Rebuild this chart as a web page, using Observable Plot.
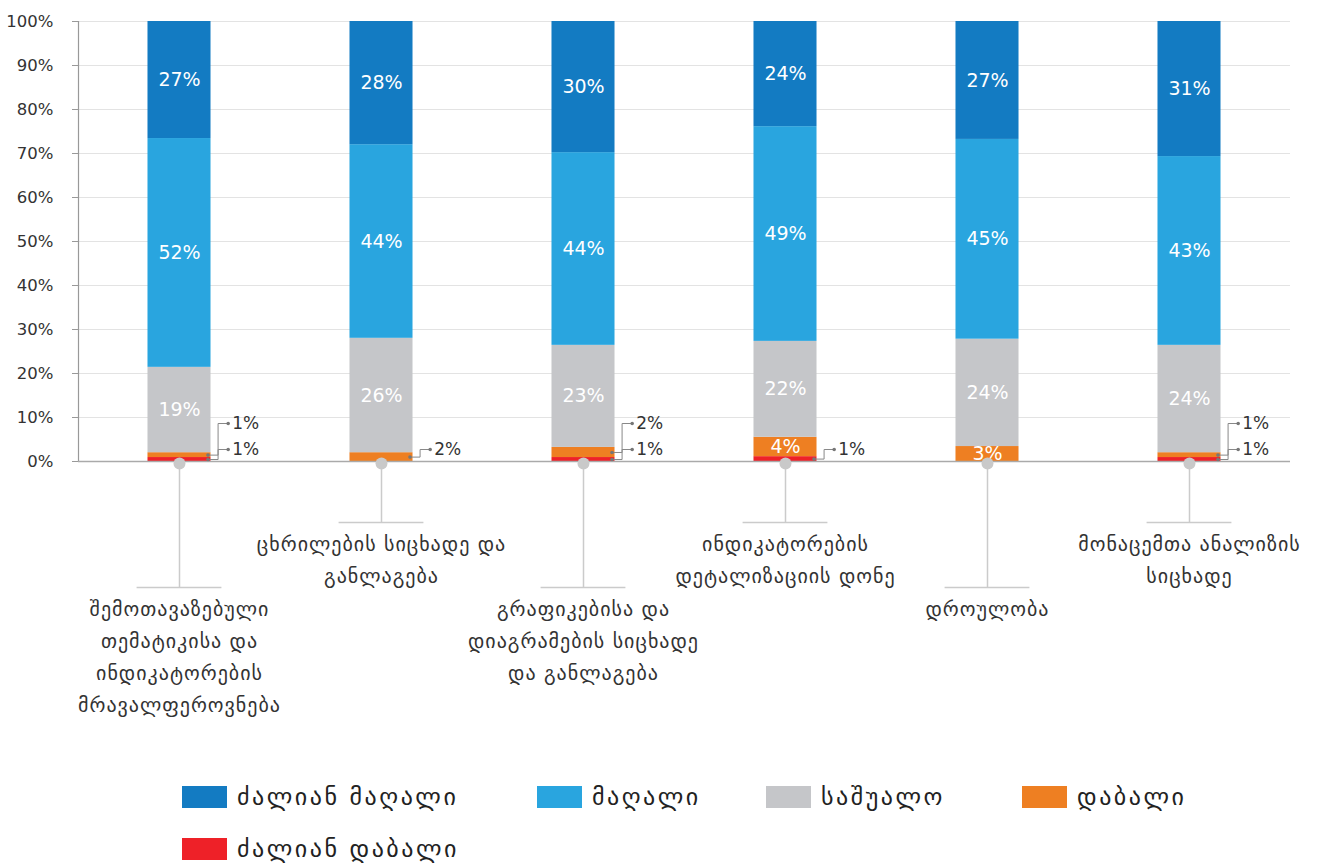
<!DOCTYPE html>
<html>
<head>
<meta charset="utf-8">
<script src="https://cdn.jsdelivr.net/npm/d3@7"></script>
<script src="https://cdn.jsdelivr.net/npm/@observablehq/plot@0.6"></script>
<style>
  html, body { margin: 0; padding: 0; background: #fff; }
  body { width: 1317px; height: 864px; position: relative; overflow: hidden; font-family: "DejaVu Sans", sans-serif; }
  #chart { position: absolute; left: 0; top: 0; }
  #legend { position: absolute; left: 0; top: 0; width: 1317px; }
  .item { position: absolute; display: flex; align-items: center; font-size: 24px; color: #222; letter-spacing: 2.5px; white-space: nowrap; line-height: 28px; }
  .sw { width: 45px; height: 22px; margin-right: 10px; }
  g[aria-description="catlabels"] text { letter-spacing: 1px; }
</style>
</head>
<body>
<div id="chart"></div>
<div id="legend"></div>
<script>
const categories = [
  "შემოთავაზებული\nთემატიკისა და\nინდიკატორების\nმრავალფეროვნება",
  "ცხრილების სიცხადე და\nგანლაგება",
  "გრაფიკებისა და\nდიაგრამების სიცხადე\nდა განლაგება",
  "ინდიკატორების\nდეტალიზაციის დონე",
  "დროულობა",
  "მონაცემთა ანალიზის\nსიცხადე"
];
// stacking order bottom -> top
const levels = ["ძალიან დაბალი", "დაბალი", "საშუალო", "მაღალი", "ძალიან მაღალი"];
const colors = ["#ee2128", "#ee7f22", "#c5c6c9", "#29a5df", "#137bc2"];
const veryLow  = [0.9, 0,   0.9,  1.1,  0,    0.9];
const low      = [1.1, 2,   2.3,  4.4,  3.4,  1.1];
const medium   = [19.4, 26, 23.2, 21.8, 24.4, 24.4];
const high     = [52,  44,  43.8, 48.8, 45.4, 42.9];
const veryHigh = [26.6, 28, 29.8, 23.9, 26.8, 30.7];
const yTicks = [0, 10, 20, 30, 40, 50, 60, 70, 80, 90, 100];
const legendOrder = ["ძალიან მაღალი", "მაღალი", "საშუალო", "დაბალი", "ძალიან დაბალი"];

const series = [veryLow, low, medium, high, veryHigh];

// layout
const W = 1317, H = 730, mt = 21, mb = 269, ml = 78, mr = 27;
const pxPerUnit = (H - mt - mb) / 100;
const hw = 0.156;            // half bar width in category units
const insideMin = 3;         // values >= this get label inside

const rows = [];
const callouts = [];
categories.forEach((c, i) => {
  let acc = 0;
  const small = [];
  series.forEach((s, k) => {
    const v = s[i];
    const r = {i, level: levels[k], value: v, y1: acc, y2: acc + v, mid: acc + v / 2};
    acc += v;
    if (v > 0) rows.push(r);
    if (v > 0 && v < insideMin) small.push(r);
  });
  small.forEach((r, j) => {
    const offPx = j === 0 ? 12 : 38;
    callouts.push({...r, ly: offPx / pxPerUnit});
  });
});

const idx = categories.map((c, i) => ({i, label: c, depth: (i % 2 === 0 ? 126 : 61) / pxPerUnit}));

const chart = Plot.plot({
  width: W, height: H,
  marginTop: mt, marginBottom: mb, marginLeft: ml, marginRight: mr,
  style: {fontFamily: "'DejaVu Sans', sans-serif", background: "white", overflow: "visible"},
  x: {domain: [-0.5, 5.5], axis: null},
  y: {domain: [0, 100], axis: null},
  color: {domain: levels, range: colors},
  marks: [
    Plot.gridY(yTicks, {stroke: "#e3e3e3", strokeOpacity: 1}),
    Plot.axisY(yTicks, {tickFormat: d => d + "%", tickSize: 6, tickPadding: 19, fontSize: 16.5, color: "#333", stroke: "#999"}),
    Plot.ruleX([-0.5], {y1: 0, y2: 100, stroke: "#999", strokeWidth: 1.2}),
    Plot.rectY(rows, {x1: d => d.i - hw, x2: d => d.i + hw, y1: "y1", y2: "y2", fill: "level"}),
    Plot.ruleY([0], {stroke: "#aaa", strokeWidth: 1.6}),
    Plot.text(rows.filter(d => d.value >= insideMin), {x: "i", y: "mid", text: d => Math.round(d.value) + "%", fill: "white", fontSize: 19}),
    Plot.link(callouts, {x1: d => d.i + hw - 0.015, y1: "mid", x2: d => d.i + hw + 0.085, y2: "ly", curve: "step", stroke: "#888", strokeWidth: 1}),
    Plot.dot(callouts, {x: d => d.i + hw - 0.015, y: "mid", r: 1.8, fill: "#777"}),
    Plot.dot(callouts, {x: d => d.i + hw + 0.085, y: "ly", r: 1.8, fill: "#777"}),
    Plot.text(callouts, {x: d => d.i + hw + 0.085, y: "ly", dx: 4, text: d => Math.round(d.value) + "%", textAnchor: "start", fontSize: 17, fill: "#333"}),
    Plot.ruleX(idx, {x: "i", y1: 0, y2: d => -d.depth, stroke: "#cbcbcb", strokeWidth: 1.5}),
    Plot.ruleY(idx, {y: d => -d.depth, x1: d => d.i - 0.21, x2: d => d.i + 0.21, stroke: "#cbcbcb", strokeWidth: 1.5}),
    Plot.dot(idx, {x: "i", y: 0, dy: 2, r: 6, fill: "#c9c9c9"}),
    Plot.text(idx, {x: "i", y: d => -d.depth, dy: 6, text: "label", lineAnchor: "top", fontSize: 20, lineHeight: 1.6, fill: "#333", ariaDescription: "catlabels"})
  ]
});
document.getElementById("chart").appendChild(chart);

// legend
const legend = document.getElementById("legend");
const pos = [[182, 783], [537, 783], [766, 783], [1022, 783], [182, 835]];
legendOrder.forEach((name, j) => {
  const item = document.createElement("div");
  item.className = "item";
  item.style.left = pos[j][0] + "px";
  item.style.top = pos[j][1] + "px";
  const sw = document.createElement("div");
  sw.className = "sw";
  sw.style.background = colors[levels.indexOf(name)];
  const t = document.createElement("span");
  t.textContent = name;
  item.appendChild(sw);
  item.appendChild(t);
  legend.appendChild(item);
});
</script>
</body>
</html>
